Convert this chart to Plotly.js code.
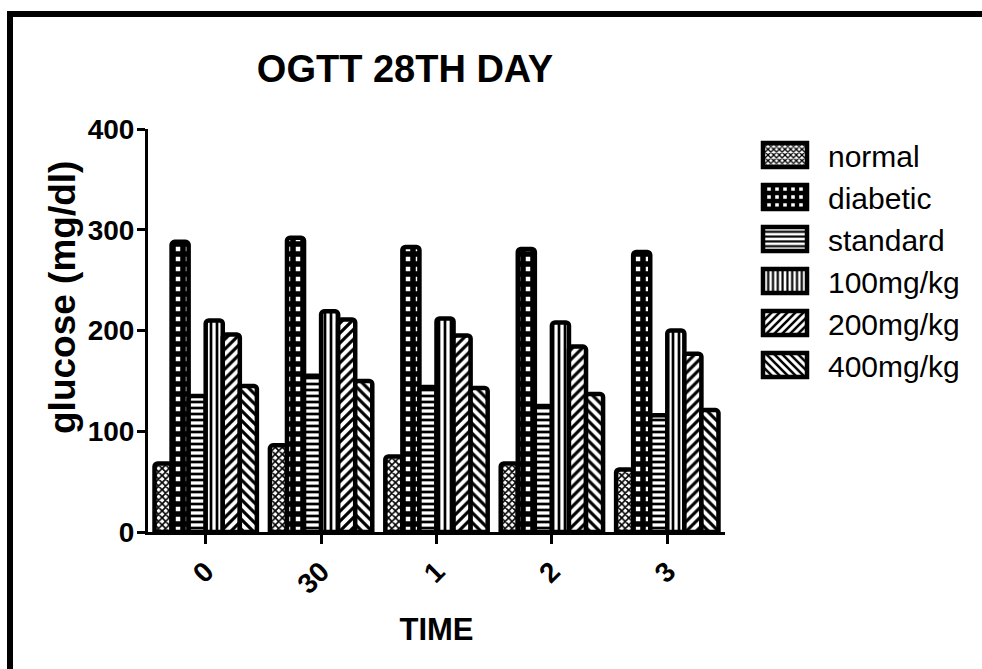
<!DOCTYPE html>
<html>
<head>
<meta charset="utf-8">
<script src="https://cdn.plot.ly/plotly-3.0.1.min.js"></script>
<style>
  html, body { margin:0; padding:0; background:#fff; }
  #wrap { position:relative; width:982px; height:669px; }
  #chart { position:absolute; left:0; top:0; width:982px; height:669px; }
  #frame { position:absolute; left:7px; top:11px; width:975px; height:658px;
           border-top:6px solid #000; border-left:6px solid #000; box-sizing:border-box; pointer-events:none; }
</style>
</head>
<body>
<div id="wrap"><div id="chart"></div><div id="frame"></div></div>
<script>
const categories = ["0", "30", "1", "2", "3"];
const normal   = [68, 86, 75, 68, 62];
const diabetic = [288, 292, 283, 281, 278];
const standard = [135, 155, 144, 125, 116];
const mg100    = [210, 219, 212, 208, 200];
const mg200    = [196, 211, 195, 184, 177];
const mg400    = [145, 150, 143, 137, 121];
const yTicks   = [0, 100, 200, 300, 400];

const seriesNames = ["normal", "diabetic", "standard", "100mg/kg", "200mg/kg", "400mg/kg"];
const seriesValues = [normal, diabetic, standard, mg100, mg200, mg400];
const patterns = [
  {shape: "x", size: 5, solidity: 0.55, fgcolor: "#000", bgcolor: "#fff"},
  {shape: "+", size: 10, solidity: 0.8, fgcolor: "#000", bgcolor: "#fff"},
  {shape: "-", size: 6, solidity: 0.45, fgcolor: "#000", bgcolor: "#fff"},
  {shape: "|", size: 6, solidity: 0.45, fgcolor: "#000", bgcolor: "#fff"},
  {shape: "/", size: 7, solidity: 0.45, fgcolor: "#000", bgcolor: "#fff"},
  {shape: "\\", size: 7, solidity: 0.45, fgcolor: "#000", bgcolor: "#fff"}
];

const traces = seriesNames.map((name, i) => ({
  type: "bar",
  name: name,
  x: categories,
  y: seriesValues[i],
  marker: {
    color: "#fff",
    line: {color: "#000", width: 4.5},
    pattern: patterns[i],
    cornerradius: 3
  },
  hoverinfo: "none"
}));

const FONT = "Liberation Sans, Arial, sans-serif";
const L = 148, R = 257, T = 129, B = 137;
const plotW = 982 - L - R, plotH = 669 - T - B;

const layout = {
  width: 982, height: 669,
  margin: {l: L, r: R, t: T, b: B},
  paper_bgcolor: "#fff", plot_bgcolor: "#fff",
  barmode: "group",
  bargap: 0.113, bargroupgap: 0,
  showlegend: true,
  font: {family: FONT, color: "#000"},
  title: {
    text: "<b>OGTT 28TH DAY</b>",
    font: {family: FONT, size: 38, color: "#000"},
    xref: "container", x: 405 / 982, xanchor: "center",
    yref: "container", y: 1 - 69 / 669, yanchor: "middle"
  },
  xaxis: {
    type: "category",
    range: [-0.5, 4.5],
    showline: true, linecolor: "#000", linewidth: 3,
    ticks: "outside", ticklen: 9, tickwidth: 3, tickcolor: "#000",
    tickangle: -45,
    tickfont: {family: FONT, size: 28, color: "#000", weight: "bold"},
    showgrid: false, zeroline: false,
    title: {text: "<b>TIME</b>", font: {family: FONT, size: 31, color: "#000"}, standoff: 20},
    fixedrange: true
  },
  yaxis: {
    range: [0, 400],
    tickvals: yTicks,
    showline: true, linecolor: "#000", linewidth: 3,
    ticks: "outside", ticklen: 8, tickwidth: 3, tickcolor: "#000",
    tickfont: {family: FONT, size: 28, color: "#000", weight: "bold"},
    ticklabelstandoff: -3,
    showgrid: false, zeroline: false,
    fixedrange: true
  },
  annotations: [{
    text: "<b>glucose (mg/dl)</b>",
    font: {family: FONT, size: 37, color: "#000"},
    textangle: -90,
    xref: "paper", x: (62 - L) / plotW, xanchor: "center",
    yref: "paper", y: (669 - B - 298) / plotH, yanchor: "middle",
    showarrow: false
  }],
  legend: {
    x: (758 - L) / plotW, xref: "paper", xanchor: "left",
    y: 1.0, yref: "paper", yanchor: "top",
    font: {family: FONT, size: 30, color: "#000"},
    bgcolor: "rgba(0,0,0,0)",
    itemwidth: 60
  }
};

function widenSwatches(gd) {
  gd.querySelectorAll(".legend .traces").forEach(g => {
    const txt = g.querySelector(".legendtext");
    const tx = txt ? parseFloat(txt.getAttribute("x")) || 70 : 70;
    g.querySelectorAll(".legendpoints path").forEach(p => {
      p.setAttribute("d", "M22,12H-22V-12H22Z");
      p.setAttribute("transform", "translate(" + Math.max(24, tx - 43) + ",0)");
      p.style.strokeWidth = "4.5px";
    });
  });
}

Plotly.newPlot("chart", traces, layout, {displayModeBar: false, staticPlot: true}).then(gd => {
  widenSwatches(gd);
  setTimeout(() => widenSwatches(gd), 0);
});
</script>
</body>
</html>
